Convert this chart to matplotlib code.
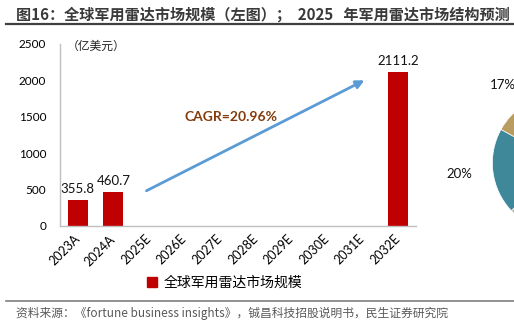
import numpy as np
import matplotlib
matplotlib.use("Agg")
import matplotlib.pyplot as plt
import matplotlib.transforms as mtransforms
from matplotlib.lines import Line2D
from matplotlib.patches import Patch

plt.rcParams['font.family'] = ['Lato', 'Noto Sans CJK SC', 'DejaVu Sans']
CJK = ['Noto Sans CJK SC', 'DejaVu Sans']

# 数据：全球军用雷达市场规模（亿美元）
nam = ["2023A", "2024A", "2025E", "2026E", "2027E", "2028E", "2029E", "2030E", "2031E", "2032E"]
quy_mo = [355.8, 460.7, None, None, None, None, None, None, None, 2111.2]
cagr = "CAGR=20.96%"

# 数据：2025 年军用雷达市场结构（饼图，只露出左侧一部分）
ty_le = [25, 20, 18, 20, 17]
mau_pie = ["#4472C4", "#7F7F7F", "#B7B8A8", "#3E889A", "#B99C5F"]

fig = plt.figure(figsize=(5.14, 3.23), dpi=100)

# 标题与分隔线
fig.text(16 / 514, 1 - 15 / 323, "图16：全球军用雷达市场规模（左图）；  2025   年军用雷达市场结构预测",
         family=CJK, fontsize=10.9, fontweight='bold', color='#3a3a3a', ha='left', va='center')
fig.add_artist(Line2D([6 / 514, 1], [1 - 24 / 323] * 2, color='#404040', lw=1.6))
fig.add_artist(Line2D([6 / 514, 1], [1 - 301 / 323] * 2, color='#7f7f7f', lw=1.2))
fig.text(16 / 514, 1 - 313 / 323, "资料来源：《fortune business insights》，铖昌科技招股说明书，民生证券研究院",
         family=CJK, fontsize=8.5, color='#595959', ha='left', va='center')

# 柱状图
ax = fig.add_axes([60 / 514, 1 - 226 / 323, 356 / 514, 182 / 323])
x = np.arange(len(nam))
co = [i for i, v in enumerate(quy_mo) if v is not None]
gia_tri = [quy_mo[i] for i in co]
bars = ax.bar(x[co], gia_tri, width=0.56, color='#C00000', label="全球军用雷达市场规模")
ax.bar_label(bars, labels=[f"{v:.1f}" for v in gia_tri], padding=4, fontsize=9.5, color='#111111')

ax.set_xlim(-0.5, len(nam) - 0.5)
ax.set_ylim(0, 2500)
ax.set_yticks(np.arange(0, 2501, 500))
ax.set_xticks(x)
ax.set_xticklabels(nam, rotation=45, ha='right', va='center', rotation_mode='anchor', fontsize=9)
dich = mtransforms.ScaledTranslation(4 / 100, 0, fig.dpi_scale_trans)
for lb in ax.get_xticklabels():
    lb.set_transform(lb.get_transform() + dich)
ax.tick_params(axis='y', length=0, labelsize=8.5, pad=10)
ax.tick_params(axis='x', length=0, pad=8)
for s in ['top', 'right']:
    ax.spines[s].set_visible(False)
for s in ['left', 'bottom']:
    ax.spines[s].set_color('#BFBFBF')
    ax.spines[s].set_linewidth(1)

ax.text(0.02, 0.985, "（亿美元）", transform=ax.transAxes, family=CJK, fontsize=8.5,
        color='#222222', ha='left', va='center')

# CAGR 箭头
ax.annotate('', xy=(8.12, 2019), xytext=(1.86, 467),
            arrowprops=dict(arrowstyle='-|>', color='#5B9BD5', lw=2, mutation_scale=12))
ax.text(4.3, 1497, cagr, fontsize=10, fontweight='bold', color='#843C0C', ha='center', va='center')

fig.legend(handles=[Patch(color='#C00000', label="全球军用雷达市场规模")],
           loc='center', bbox_to_anchor=(225 / 514, 1 - 283 / 323), frameon=False,
           prop={'family': CJK, 'size': 10}, handlelength=0.7, handleheight=0.7, handletextpad=0.5)

# 饼图（被右边界截断）
pax = fig.add_axes([(562 - 87) / 514, (323 - 163 - 87) / 323, 174 / 514, 174 / 323])
pax.pie(ty_le, colors=mau_pie, startangle=90, counterclock=False,
        labels=[f"{v}%" for v in ty_le], labeldistance=1.3,
        textprops={'fontsize': 9.5, 'color': '#111111'},
        wedgeprops={'linewidth': 0.5, 'edgecolor': 'white'})
pax.set_aspect('equal')

fig.savefig("out.png", dpi=100)
